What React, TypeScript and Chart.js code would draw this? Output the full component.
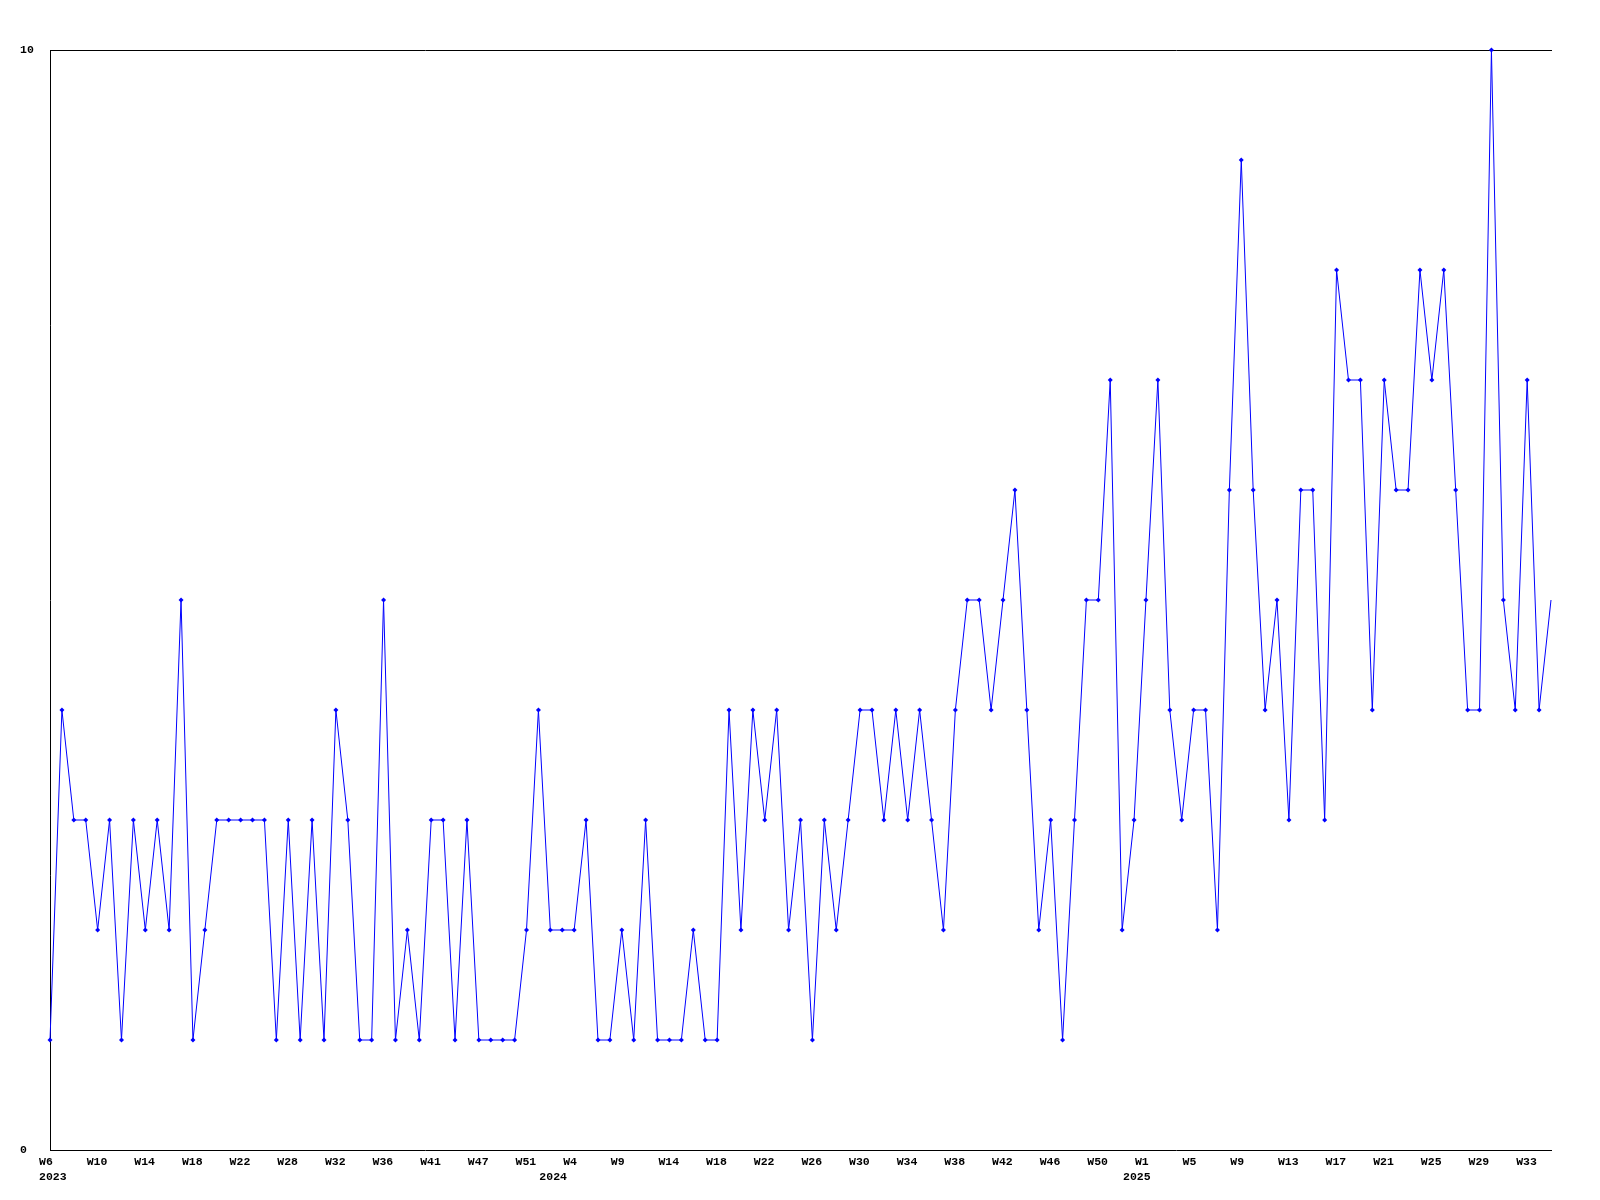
import React, { useEffect, useRef } from 'react';
import { Chart, registerables } from 'chart.js';

Chart.register(...registerables);

// Weekly values, one per point (127 points)
const values: number[] = [
  1, 4, 3, 3, 2, 3, 1, 3, 2, 3,
  2, 5, 1, 2, 3, 3, 3, 3, 3, 1,
  3, 1, 3, 1, 4, 3, 1, 1, 5, 1,
  2, 1, 3, 3, 1, 3, 1, 1, 1, 1,
  2, 4, 2, 2, 2, 3, 1, 1, 2, 1,
  3, 1, 1, 1, 2, 1, 1, 4, 2, 4,
  3, 4, 2, 3, 1, 3, 2, 3, 4, 4,
  3, 4, 3, 4, 3, 2, 4, 5, 5, 4,
  5, 6, 4, 2, 3, 1, 3, 5, 5, 7,
  2, 3, 5, 7, 4, 3, 4, 4, 2, 6,
  9, 6, 4, 5, 3, 6, 6, 3, 8, 7,
  7, 4, 7, 6, 6, 8, 7, 8, 6, 4,
  4, 10, 5, 4, 7, 4, 5,
];

// Week tick labels shown on every 4th point
const weekTicks: string[] = [
  'W6', 'W10', 'W14', 'W18', 'W22', 'W28', 'W32', 'W36', 'W41', 'W47', 'W51',
  'W4', 'W9', 'W14', 'W18', 'W22', 'W26', 'W30', 'W34', 'W38', 'W42', 'W46', 'W50',
  'W1', 'W5', 'W9', 'W13', 'W17', 'W21', 'W25', 'W29', 'W33',
];
const tickEvery = 4;
// Year labels, at the first point of each year
const yearLabels: string[] = ['2023', '2024', '2025'];
const yearStartIndex: number[] = [0, 42, 91];
const yTicks: number[] = [0, 10];
const yMin = 0;
const yMax = 10;

export default function App() {
  const ref = useRef<HTMLCanvasElement>(null);

  useEffect(() => {
    if (!ref.current) return;
    const last = values.length - 1;
    const font = {
      family: '"Liberation Mono", "DejaVu Sans Mono", monospace',
      size: 11.5,
      weight: 'bold' as const,
      lineHeight: '14.8px',
    };
    const chart = new Chart(ref.current, {
      type: 'line',
      data: {
        datasets: [
          {
            data: values.map((v, i) => ({ x: i, y: v })),
            borderColor: '#0000ff',
            backgroundColor: '#0000ff',
            borderWidth: 1,
            pointStyle: 'rectRot',
            pointRadius: (ctx: any) => (ctx.dataIndex === last ? 0 : 2.5),
            pointBorderWidth: 0,
            tension: 0,
            clip: false as any,
          },
        ],
      },
      options: {
        responsive: false,
        animation: false,
        events: [],
        layout: { padding: { left: 20, right: 49, top: 50, bottom: 0 } },
        plugins: { legend: { display: false }, tooltip: { enabled: false } },
        scales: {
          x: {
            type: 'linear',
            position: 'bottom',
            weight: 0,
            min: 0,
            max: last,
            bounds: 'data',
            grid: { display: false, drawTicks: false },
            border: { display: true, color: '#000', width: 1 },
            afterBuildTicks: (s: any) => {
              s.ticks = weekTicks.map((_, i) => ({ value: i * tickEvery }));
            },
            afterFit: (s: any) => {
              s.height = 20;
            },
            ticks: {
              autoSkip: false,
              maxRotation: 0,
              minRotation: 0,
              align: 'start',
              labelOffset: -11,
              padding: 5,
              color: '#000',
              font,
              callback: (_v: any, i: number) => weekTicks[i],
            },
          },
          xYear: {
            type: 'linear',
            position: 'bottom',
            weight: 1,
            min: 0,
            max: last,
            bounds: 'data',
            grid: { display: false, drawTicks: false },
            border: { display: false },
            afterBuildTicks: (s: any) => {
              s.ticks = yearStartIndex.map((v) => ({ value: v }));
            },
            afterFit: (s: any) => {
              s.height = 30;
            },
            ticks: {
              autoSkip: false,
              maxRotation: 0,
              minRotation: 0,
              align: 'start',
              labelOffset: -11,
              padding: 0,
              color: '#000',
              font,
              callback: (_v: any, i: number) => yearLabels[i],
            },
          },
          x2: {
            type: 'linear',
            position: 'top',
            min: 0,
            max: last,
            grid: { display: false, drawTicks: false },
            border: { display: true, color: '#000', width: 1 },
            ticks: { display: false },
            afterFit: (s: any) => {
              s.height = 0;
            },
          },
          y: {
            type: 'linear',
            position: 'left',
            min: yMin,
            max: yMax,
            grid: { display: false, drawTicks: false },
            border: { display: true, color: '#000', width: 1 },
            afterBuildTicks: (s: any) => {
              s.ticks = yTicks.map((v) => ({ value: v }));
            },
            afterFit: (s: any) => {
              s.width = 30;
            },
            ticks: {
              crossAlign: 'far',
              padding: 0,
              color: '#000',
              font,
              callback: (v: any) => String(v),
            },
          },
        },
      },
    });
    return () => chart.destroy();
  }, []);

  return (
    <div style={{ position: 'fixed', left: 0, top: 0, width: 1600, height: 1200, background: '#fff' }}>
      <canvas ref={ref} width={1600} height={1200} style={{ display: 'block' }} />
    </div>
  );
}
